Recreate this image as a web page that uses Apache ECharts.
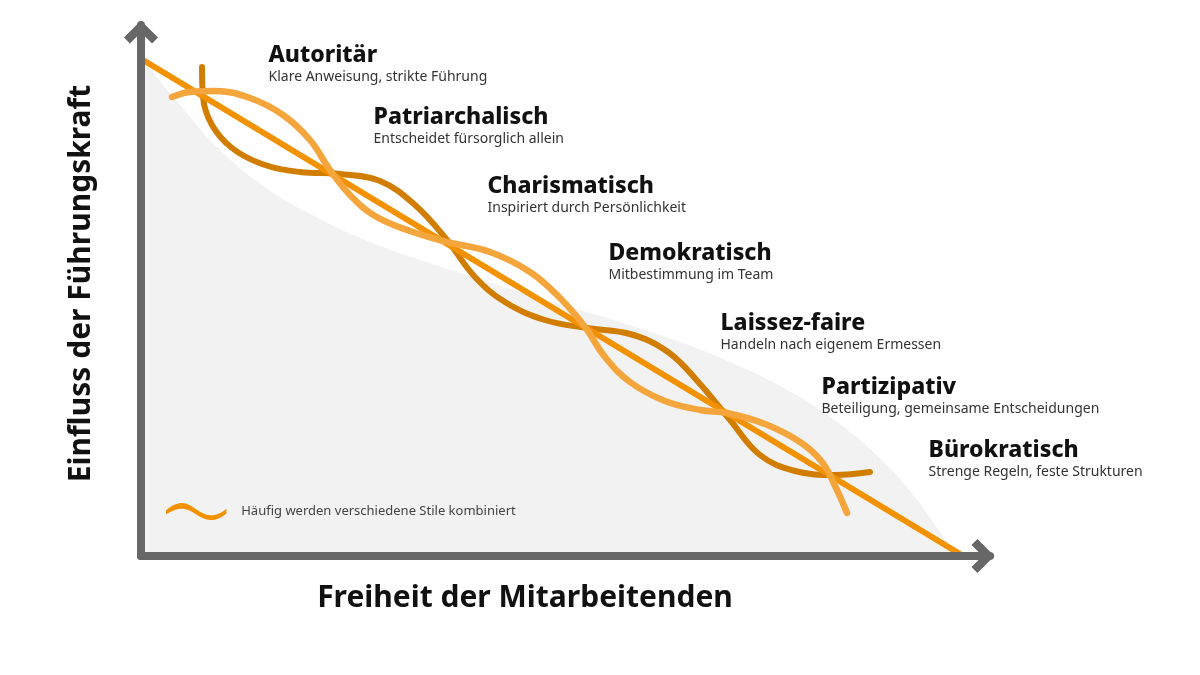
<!DOCTYPE html>
<html>
<head>
<meta charset="utf-8">
<title>Führungsstile</title>
<script src="https://cdn.jsdelivr.net/npm/echarts@6/dist/echarts.min.js"></script>
<style>
    html, body { margin: 0; padding: 0; background: #ffffff; }
    #chart { width: 1200px; height: 675px; }
</style>
</head>
<body>
<div id="chart"></div>
<script>
var styleNames = ['Autoritär', 'Patriarchalisch', 'Charismatisch', 'Demokratisch', 'Laissez-faire', 'Partizipativ', 'Bürokratisch'];
var styleDescs = ['Klare Anweisung, strikte Führung', 'Entscheidet fürsorglich allein', 'Inspiriert durch Persönlichkeit', 'Mitbestimmung im Team', 'Handeln nach eigenem Ermessen', 'Beteiligung, gemeinsame Entscheidungen', 'Strenge Regeln, feste Strukturen'];
var labelX = [127, 232, 346, 467, 579, 680, 787];
var labelY = [514, 452, 383, 316, 246, 182, 119];

var trendLine = [[2, 496], [819, 2]];

var areaCurve = [[2, 496], [9, 487], [24, 469], [39, 451], [72, 413], [122, 370], [179, 337], [229, 314],
    [279, 296], [329, 280], [379, 264], [429, 249], [479, 234], [539, 214], [589, 194], [639, 170],
    [692, 137], [742, 95], [776, 56], [799, 24], [814, 0]];

var darkWave = [[61, 489], [62, 459], [71, 431], [91, 408], [121, 392], [159, 384], [199, 382], [239, 375],
    [274, 351], [306, 316], [334, 279], [364, 254], [404, 236], [446, 228], [489, 222], [527, 204],
    [559, 172], [589, 136], [619, 101], [654, 85], [694, 81], [729, 84]];

var lightWave = [[31, 459], [49, 464], [74, 465], [109, 458], [142, 441], [169, 416], [189, 386], [209, 361],
    [234, 340], [269, 325], [306, 314], [349, 304], [389, 284], [419, 258], [444, 229], [464, 199],
    [489, 174], [524, 155], [559, 146], [586, 143], [624, 132], [659, 114], [681, 94], [695, 68], [706, 43]];

var legendText = 'Häufig werden verschiedene Stile kombiniert';

var labelData = styleNames.map(function (n, i) {
    return { value: [labelX[i], labelY[i]], name: n, desc: styleDescs[i] };
});

var font = '"Noto Sans", Lato, sans-serif';
var chevron = 'path://M0,10 L10,0 L20,10 L16.5,13.5 L10,7 L3.5,13.5 Z';
var waveIcon = 'path://M0,6 C6,0 12,-2 17,-2 C28,-2 36,11 47,11 C53,11 58,9 64,4 L64,9 C58,14 53,16 47,16 C36,16 28,4 17,4 C12,4 6,6 0,10 Z';

var myChart = echarts.init(document.getElementById('chart'), null, { renderer: 'canvas' });

var option = {
    backgroundColor: '#ffffff',
    animation: false,
    textStyle: { fontFamily: font },
    grid: { left: 141, right: 210, top: 25, bottom: 119 },
    legend: {
        left: 161,
        top: 498,
        itemWidth: 64,
        itemHeight: 17,
        selectedMode: false,
        data: [{ name: legendText, icon: waveIcon, itemStyle: { color: '#F39200' } }],
        textStyle: { fontSize: 13, color: '#444444', padding: [0, 0, 0, 8], fontFamily: font }
    },
    xAxis: {
        type: 'value',
        min: 0,
        max: 849,
        z: 10,
        name: 'Freiheit der Mitarbeitenden',
        nameLocation: 'middle',
        nameGap: 27,
        nameTextStyle: { fontSize: 30, fontWeight: 'bold', color: '#111111', padding: [0, 81, 0, 0], fontFamily: font },
        axisLine: {
            lineStyle: { color: '#676767', width: 8, cap: 'round' },
            symbol: ['none', chevron],
            symbolSize: [36, 23],
            symbolOffset: [0, -7]
        },
        axisTick: { show: false },
        axisLabel: { show: false },
        splitLine: { show: false }
    },
    yAxis: {
        type: 'value',
        min: 0,
        max: 531,
        z: 10,
        name: 'Einfluss der Führungskraft',
        nameLocation: 'middle',
        nameGap: 45,
        nameRotate: 90,
        nameTextStyle: { fontSize: 30, fontWeight: 'bold', color: '#111111', padding: [0, 0, 0, 14], fontFamily: font },
        axisLine: {
            lineStyle: { color: '#676767', width: 8, cap: 'round' },
            symbol: ['none', chevron],
            symbolSize: [36, 23],
            symbolOffset: [0, -7]
        },
        axisTick: { show: false },
        axisLabel: { show: false },
        splitLine: { show: false }
    },
    series: [
        {
            name: 'Fläche',
            type: 'line',
            data: areaCurve,
            smooth: 0.4,
            symbol: 'none',
            silent: true,
            z: 1,
            lineStyle: { width: 0 },
            areaStyle: { color: '#f2f2f2', opacity: 1 }
        },
        {
            name: 'Welle dunkel',
            type: 'line',
            data: darkWave,
            smooth: 0.4,
            symbol: 'none',
            silent: true,
            z: 3,
            lineStyle: { color: '#D07D00', width: 6, cap: 'round' }
        },
        {
            name: 'Trend',
            type: 'line',
            data: trendLine,
            symbol: 'none',
            silent: true,
            z: 4,
            lineStyle: { color: '#F39200', width: 6, cap: 'butt' }
        },
        {
            name: 'Welle hell',
            type: 'line',
            data: lightWave,
            smooth: 0.4,
            symbol: 'none',
            silent: true,
            z: 5,
            lineStyle: { color: '#F4A63D', width: 6.5, cap: 'round' }
        },
        {
            name: legendText,
            type: 'line',
            data: [],
            symbol: 'none',
            color: '#F39200'
        },
        {
            name: 'Stile',
            type: 'scatter',
            data: labelData,
            symbolSize: 1,
            silent: true,
            z: 6,
            itemStyle: { color: '#ffffff', opacity: 0 },
            label: {
                show: true,
                position: 'right',
                distance: 0,
                align: 'left',
                verticalAlign: 'top',
                opacity: 1,
                color: '#111111',
                formatter: function (p) {
                    return '{t|' + p.data.name + '}\n{s|' + p.data.desc + '}';
                },
                rich: {
                    t: { fontSize: 23, fontWeight: 800, color: '#111111', lineHeight: 26, fontFamily: font },
                    s: { fontSize: 14, color: '#333333', lineHeight: 18, fontFamily: font }
                }
            }
        }
    ]
};

if (option && typeof option === 'object') {
    myChart.setOption(option);
}

window.addEventListener('resize', myChart.resize);
</script>
</body>
</html>
